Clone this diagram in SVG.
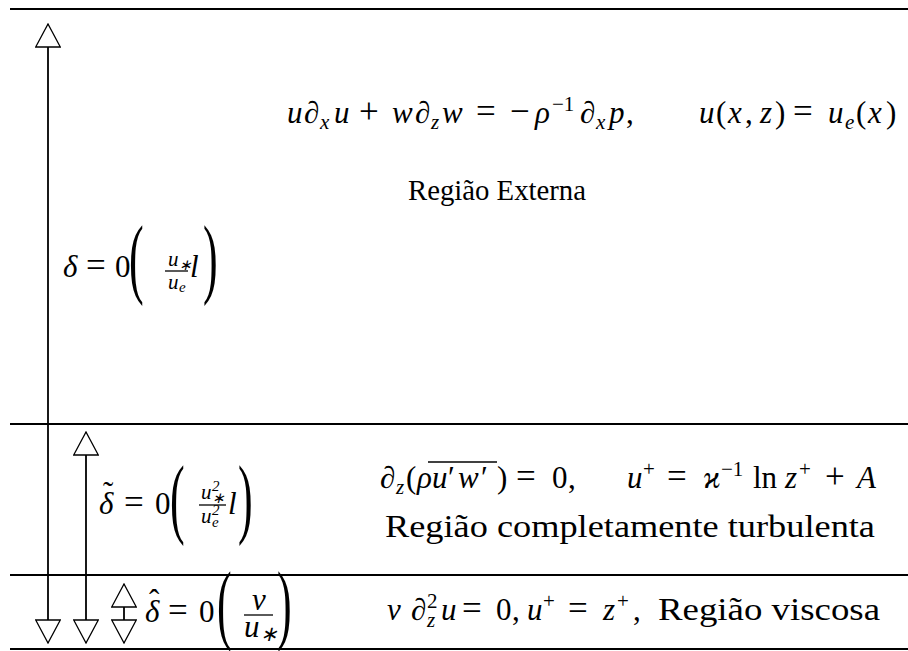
<svg xmlns="http://www.w3.org/2000/svg" width="908" height="651" viewBox="0 0 908 651">
<style>
.t{font-family:'Liberation Serif','Times New Roman',serif;font-size:31px;fill:#000}
.i{font-style:italic}
.s{font-size:21px}
.ss{font-size:15px}
.op{font-size:35px}
.big{font-size:88px}
.bd{stroke:#000;stroke-width:2;fill:none}
.sh{stroke:#000;stroke-width:1.8;fill:none}
.fl{stroke:#000;stroke-width:1.3}
</style>
<defs>
<marker id="ah" viewBox="0 0 25 26" refX="24" refY="13" markerWidth="25" markerHeight="26" orient="auto-start-reverse" markerUnits="userSpaceOnUse">
<path d="M1,0.7 L24,13 L1,25.3 Z" fill="#fff" stroke="#000" stroke-width="1.3"/>
</marker>
</defs>
<rect width="908" height="651" fill="#fff"/>
<g id="boundaries">
<line class="bd" x1="10" y1="9" x2="908" y2="9"/>
<line class="bd" x1="10" y1="424" x2="908" y2="424"/>
<line class="bd" x1="10" y1="575" x2="908" y2="575"/>
<line class="bd" x1="10" y1="649" x2="908" y2="649"/>
</g>
<g id="connectors">
<line class="sh" x1="48" y1="643" x2="48" y2="24" marker-start="url(#ah)" marker-end="url(#ah)"/>
<line class="sh" x1="86" y1="643" x2="86" y2="432" marker-start="url(#ah)" marker-end="url(#ah)"/>
<line class="sh" x1="124" y1="643" x2="124" y2="584" marker-start="url(#ah)" marker-end="url(#ah)"/>
</g>
<g id="region-externa">
<text class="t" y="123"><tspan x="287" class="i">u</tspan><tspan x="304">∂</tspan><tspan x="320" dy="6" class="s i">x</tspan><tspan x="334" dy="-6" class="i">u</tspan><tspan x="359" class="op">+</tspan><tspan x="392" class="i">w</tspan><tspan x="415">∂</tspan><tspan x="431" dy="6" class="s i">z</tspan><tspan x="442" dy="-6" class="i">w</tspan><tspan x="476" class="op">=</tspan><tspan x="510" class="op">−</tspan><tspan x="535" class="i">ρ</tspan><tspan x="552" dy="-12" class="s">−1</tspan><tspan x="580" dy="12">∂</tspan><tspan x="596" dy="6" class="s i">x</tspan><tspan x="609" dy="-6" class="i">p</tspan><tspan x="626">,</tspan></text>
<text class="t" y="123"><tspan x="699" class="i">u</tspan><tspan x="716">(</tspan><tspan x="728" class="i">x</tspan><tspan x="745">,</tspan><tspan x="760" class="i">z</tspan><tspan x="775">)</tspan><tspan x="793" class="op">=</tspan><tspan x="828" class="i">u</tspan><tspan x="845" dy="6" class="s i">e</tspan><tspan x="856" dy="-6">(</tspan><tspan x="868" class="i">x</tspan><tspan x="886">)</tspan></text>
<text class="t" x="408" y="200" textLength="178" lengthAdjust="spacingAndGlyphs" style="font-size:29px">Região Externa</text>
</g>
<g id="region-turbulenta">
<line class="fl" x1="428" y1="462" x2="497" y2="462"/>
<text class="t" y="488"><tspan x="380">∂</tspan><tspan x="396" dy="6" class="s i">z</tspan><tspan x="406" dy="-6">(</tspan><tspan x="417" class="i">ρ</tspan><tspan x="432" class="i">u</tspan><tspan x="448">′</tspan><tspan x="458" class="i">w</tspan><tspan x="481">′</tspan><tspan x="497">)</tspan><tspan x="516" class="op">=</tspan><tspan x="552">0</tspan><tspan x="568">,</tspan><tspan x="627" class="i">u</tspan><tspan x="643" dy="-12" class="s">+</tspan><tspan x="667" dy="12" class="op">=</tspan><tspan x="703" class="i">ϰ</tspan><tspan x="721" dy="-12" class="s">−1</tspan><tspan x="753" dy="12">ln</tspan><tspan x="785" class="i">z</tspan><tspan x="799" dy="-12" class="s">+</tspan><tspan x="825" dy="12" class="op">+</tspan><tspan x="857" class="i">A</tspan></text>
<text class="t" x="385" y="537" textLength="490" lengthAdjust="spacingAndGlyphs">Região completamente turbulenta</text>
</g>
<g id="region-viscosa">
<text class="t" y="620"><tspan x="387" class="i">ν</tspan><tspan x="411">∂</tspan><tspan x="427" dy="-12" class="s">2</tspan><tspan x="427" dy="19" class="s i">z</tspan><tspan x="441" dy="-7" class="i">u</tspan><tspan x="462" class="op">=</tspan><tspan x="496">0</tspan><tspan x="512">,</tspan><tspan x="527" class="i">u</tspan><tspan x="543" dy="-12" class="s">+</tspan><tspan x="568" dy="12" class="op">=</tspan><tspan x="603" class="i">z</tspan><tspan x="617" dy="-12" class="s">+</tspan><tspan x="633" dy="12">,</tspan></text>
<text class="t" x="658" y="620" textLength="222" lengthAdjust="spacingAndGlyphs">Região viscosa</text>
</g>
<g id="label-delta">
<text class="t" y="277"><tspan x="63" class="i">δ</tspan><tspan x="86" class="op">=</tspan><tspan x="115">0</tspan></text>
<text class="t big" transform="translate(129,287) scale(0.5,1)">(</text>
<text class="t s i" y="266"><tspan x="168">u</tspan><tspan x="179" dy="4" class="ss">∗</tspan></text>
<line class="fl" x1="165" y1="271" x2="188" y2="271"/>
<text class="t s i" y="289"><tspan x="168">u</tspan><tspan x="179" dy="3" class="ss">e</tspan></text>
<text class="t i" x="190" y="277">l</text>
<text class="t big" transform="translate(203,287) scale(0.5,1)">)</text>
</g>
<g id="label-delta-tilde">
<text class="t" y="514"><tspan x="99" class="i">δ</tspan><tspan x="124" class="op">=</tspan><tspan x="155">0</tspan></text>
<text class="t" x="103" y="503">˜</text>
<text class="t big" transform="translate(170,527) scale(0.5,1)">(</text>
<text class="t s i" y="499"><tspan x="201">u</tspan><tspan x="212" dy="-8" class="ss">2</tspan><tspan x="212" dy="12" class="ss">∗</tspan></text>
<line class="fl" x1="199" y1="505" x2="226" y2="505"/>
<text class="t s i" y="523"><tspan x="201">u</tspan><tspan x="212" dy="-8" class="ss">2</tspan><tspan x="212" dy="12" class="ss">e</tspan></text>
<text class="t i" x="228" y="514">l</text>
<text class="t big" transform="translate(238,527) scale(0.5,1)">)</text>
</g>
<g id="label-delta-hat">
<text class="t" y="622"><tspan x="145" class="i">δ</tspan><tspan x="168" class="op">=</tspan><tspan x="199">0</tspan></text>
<text class="t" x="149" y="611">ˆ</text>
<text class="t big" transform="translate(217,633) scale(0.5,1)">(</text>
<text class="t i" x="252" y="610">ν</text>
<line class="fl" x1="244" y1="615" x2="273" y2="615"/>
<text class="t i" y="637"><tspan x="244">u</tspan><tspan x="260" dy="4" class="s">∗</tspan></text>
<text class="t big" transform="translate(277,633) scale(0.5,1)">)</text>
</g>
</svg>
